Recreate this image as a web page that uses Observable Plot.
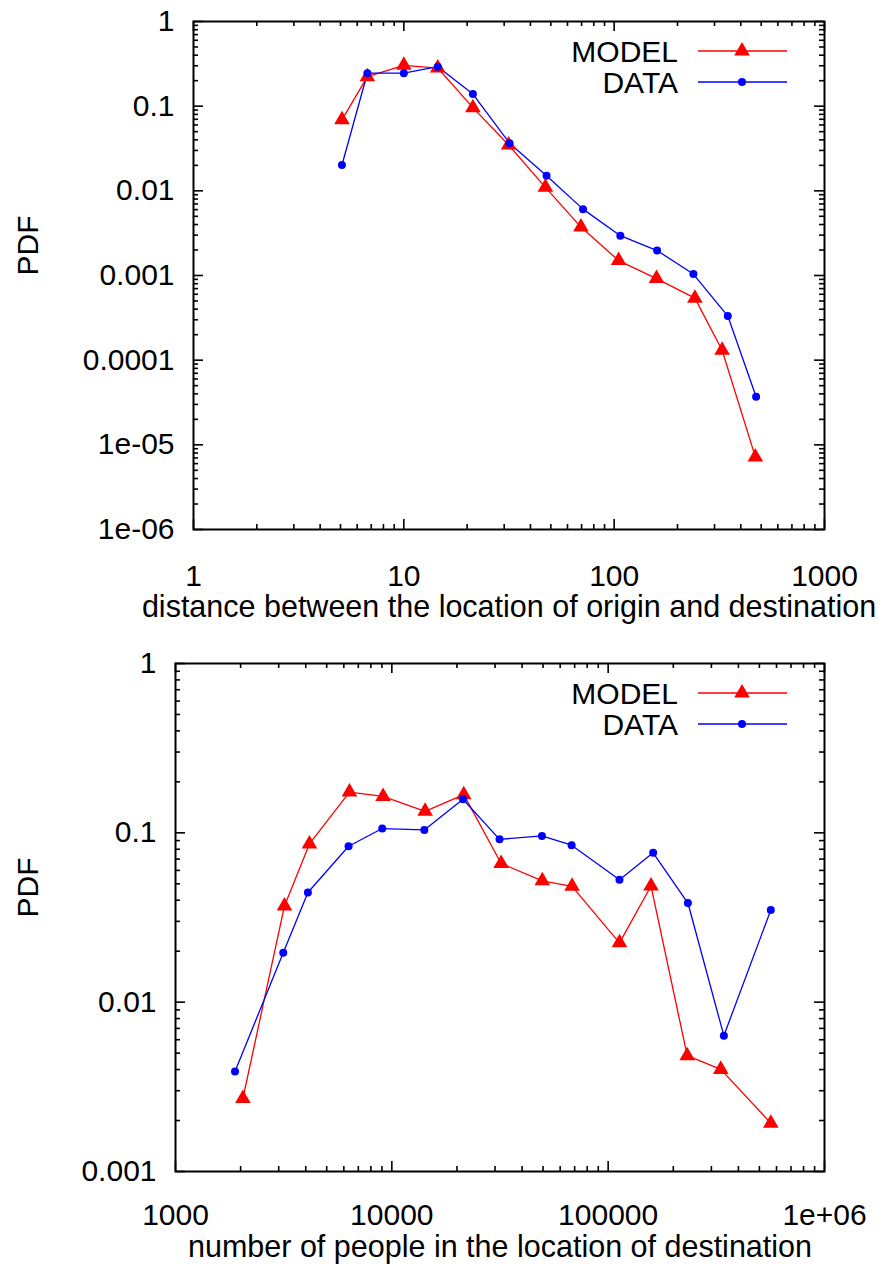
<!DOCTYPE html>
<html>
<head>
<meta charset="utf-8">
<script src="https://cdn.jsdelivr.net/npm/d3@7"></script>
<script src="https://cdn.jsdelivr.net/npm/@observablehq/plot@0.6"></script>
<style>
  html, body { margin: 0; padding: 0; background: #fff; }
  #wrap { position: relative; width: 878px; height: 1265px; font-family: "Liberation Sans", Arial, Helvetica, sans-serif; }
  #wrap svg { display: block; }
  .legend { position: absolute; left: 0; pointer-events: none; }
</style>
</head>
<body>
<div id="wrap"></div>
<script>
// ---------- data: top panel (distance) ----------
const distModelX = [5.08, 6.71, 10, 14.5, 21.3, 31.5, 47.1, 69.5, 105, 159, 242, 326, 469];
const distModelY = [0.069, 0.223, 0.304, 0.282, 0.096, 0.0348, 0.011, 0.00373, 0.0015, 0.00092, 0.00054, 0.000131, 7.2e-6];
const distDataX  = [5.08, 6.71, 10, 14.5, 21.3, 31.8, 47.7, 71.1, 107, 160, 238, 347, 473];
const distDataY  = [0.0202, 0.245, 0.245, 0.293, 0.139, 0.0365, 0.0151, 0.00608, 0.00295, 0.00197, 0.00104, 0.000332, 3.7e-5];

// ---------- data: bottom panel (population) ----------
const popModelX = [2049, 3190, 4160, 6370, 9110, 14250, 21500, 32000, 49600, 68100, 112800, 157800, 231900, 331600, 564700];
const popModelY = [0.0027, 0.037, 0.086, 0.174, 0.164, 0.134, 0.168, 0.0659, 0.0521, 0.0483, 0.0224, 0.0485, 0.00483, 0.00401, 0.00193];
const popDataX  = [1884, 3148, 4093, 6310, 9030, 14130, 21330, 31470, 49420, 67760, 112800, 161400, 233700, 342600, 564700];
const popDataY  = [0.0039, 0.0196, 0.0444, 0.0833, 0.106, 0.104, 0.158, 0.0915, 0.0959, 0.0845, 0.0528, 0.0762, 0.0385, 0.00634, 0.035];

// ---------- tick values / labels ----------
const distXTicks  = [1, 10, 100, 1000];
const distXLabels = ["1", "10", "100", "1000"];
const distYTicks  = [1, 0.1, 0.01, 0.001, 0.0001, 1e-5, 1e-6];
const distYLabels = ["1", "0.1", "0.01", "0.001", "0.0001", "1e-05", "1e-06"];
const popXTicks   = [1000, 10000, 100000, 1e6];
const popXLabels  = ["1000", "10000", "100000", "1e+06"];
const popYTicks   = [1, 0.1, 0.01, 0.001];
const popYLabels  = ["1", "0.1", "0.01", "0.001"];

const seriesNames = ["MODEL", "DATA"];
const seriesColors = ["#ff0000", "#0000ff"];
const distTitle = "distance between the location of origin and destination";
const popTitle = "number of people in the location of destination";
const yTitle = "PDF";

// ---------- helpers ----------
const FONT = "Liberation Sans, Arial, Helvetica, sans-serif";
function rows(xs, ys) { return xs.map((x, i) => ({x, y: ys[i]})); }
function minors(majors) {
  const lo = Math.min(...majors), hi = Math.max(...majors);
  const out = [];
  for (let m = lo; m < hi * 0.999; m *= 10) for (let k = 2; k <= 9; k++) out.push(m * k);
  return out;
}

function panel({width, height, mL, mR, mT, mB, xDomain, yDomain, xTicks, xLabels, yTicks, yLabels,
                modelX, modelY, dataX, dataY, xTitle, labelPad, titleOffset}) {
  const fw = width - mL - mR, fh = height - mT - mB;
  const xMap = new Map(xTicks.map((v, i) => [v, xLabels[i]]));
  const yMap = new Map(yTicks.map((v, i) => [v, yLabels[i]]));
  const xMin = minors(xTicks), yMin = minors(yTicks);
  const model = rows(modelX, modelY), data = rows(dataX, dataY);
  const MAJ = 10, MIN = 5;
  return Plot.plot({
    width, height, marginLeft: mL, marginRight: mR, marginTop: mT, marginBottom: mB,
    style: {fontFamily: FONT, fontSize: "30px", background: "#fff", color: "#000", overflow: "visible"},
    x: {type: "log", domain: xDomain},
    y: {type: "log", domain: yDomain},
    marks: [
      // inward ticks, all four sides
      Plot.tickX(xTicks, {x: d => d, insetTop: fh - MAJ, stroke: "#000", strokeWidth: 1.6}),
      Plot.tickX(xTicks, {x: d => d, insetBottom: fh - MAJ, stroke: "#000", strokeWidth: 1.6}),
      Plot.tickX(xMin, {x: d => d, insetTop: fh - MIN, stroke: "#000", strokeWidth: 1.6}),
      Plot.tickX(xMin, {x: d => d, insetBottom: fh - MIN, stroke: "#000", strokeWidth: 1.6}),
      Plot.tickY(yTicks, {y: d => d, insetRight: fw - MAJ, stroke: "#000", strokeWidth: 1.6}),
      Plot.tickY(yTicks, {y: d => d, insetLeft: fw - MAJ, stroke: "#000", strokeWidth: 1.6}),
      Plot.tickY(yMin, {y: d => d, insetRight: fw - MIN, stroke: "#000", strokeWidth: 1.6}),
      Plot.tickY(yMin, {y: d => d, insetLeft: fw - MIN, stroke: "#000", strokeWidth: 1.6}),
      Plot.frame({stroke: "#000", strokeWidth: 2}),
      // tick labels
      Plot.axisX({ticks: xTicks, anchor: "bottom", tickSize: 0, tickPadding: labelPad,
                  tickFormat: d => xMap.get(d), fontSize: 30, label: null}),
      Plot.axisY({ticks: yTicks, anchor: "left", tickSize: 0, tickPadding: 19,
                  tickFormat: d => yMap.get(d), fontSize: 30, label: null}),
      // series
      Plot.line(model, {x: "x", y: "y", stroke: seriesColors[0], strokeWidth: 1.3}),
      Plot.line(data, {x: "x", y: "y", stroke: seriesColors[1], strokeWidth: 1.3}),
      Plot.dot(model, {x: "x", y: "y", symbol: "triangle", fill: seriesColors[0], r: 5.8}),
      Plot.dot(data, {x: "x", y: "y", symbol: "circle", fill: seriesColors[1], r: 4}),
      // axis titles
      Plot.text([xTitle], {frameAnchor: "bottom", lineAnchor: "middle", dy: titleOffset, fontSize: 30.5, fill: "#000"}),
      Plot.text([yTitle], {frameAnchor: "left", lineAnchor: "middle", dx: 28 - mL, rotate: -90, fontSize: 30, fill: "#000"})
    ]
  });
}

function legend(top) {
  const svg = d3.create("svg").attr("class", "legend").attr("width", 878).attr("height", 80)
    .style("top", top + "px").style("font-family", FONT).style("font-size", "30px");
  seriesNames.forEach((name, i) => {
    const y = 30 + i * 31;
    svg.append("text").attr("x", 678).attr("y", y).attr("dy", "0.36em").attr("text-anchor", "end")
      .attr("fill", "#000").text(name);
    svg.append("line").attr("x1", 698).attr("x2", 787).attr("y1", y).attr("y2", y)
      .attr("stroke", seriesColors[i]).attr("stroke-width", 1.3);
    const sym = i === 0 ? d3.symbolTriangle : d3.symbolCircle;
    const size = i === 0 ? 5.8 * 5.8 * Math.PI : 16 * Math.PI;
    svg.append("path").attr("d", d3.symbol(sym, size)()).attr("transform", `translate(742,${y})`)
      .attr("fill", seriesColors[i]);
  });
  return svg.node();
}

const wrap = document.getElementById("wrap");
wrap.appendChild(panel({
  width: 878, height: 640, mL: 193, mR: 54, mT: 21, mB: 111,
  xDomain: [1, 1000], yDomain: [1e-6, 1],
  xTicks: distXTicks, xLabels: distXLabels, yTicks: distYTicks, yLabels: distYLabels,
  modelX: distModelX, modelY: distModelY, dataX: distDataX, dataY: distDataY,
  xTitle: distTitle, labelPad: 35, titleOffset: 78
}));
wrap.appendChild(panel({
  width: 878, height: 625, mL: 175, mR: 54, mT: 23, mB: 94,
  xDomain: [1000, 1e6], yDomain: [0.001, 1],
  xTicks: popXTicks, xLabels: popXLabels, yTicks: popYTicks, yLabels: popYLabels,
  modelX: popModelX, modelY: popModelY, dataX: popDataX, dataY: popDataY,
  xTitle: popTitle, labelPad: 32, titleOffset: 76
}));
wrap.appendChild(legend(21));
wrap.appendChild(legend(663));
</script>
</body>
</html>
